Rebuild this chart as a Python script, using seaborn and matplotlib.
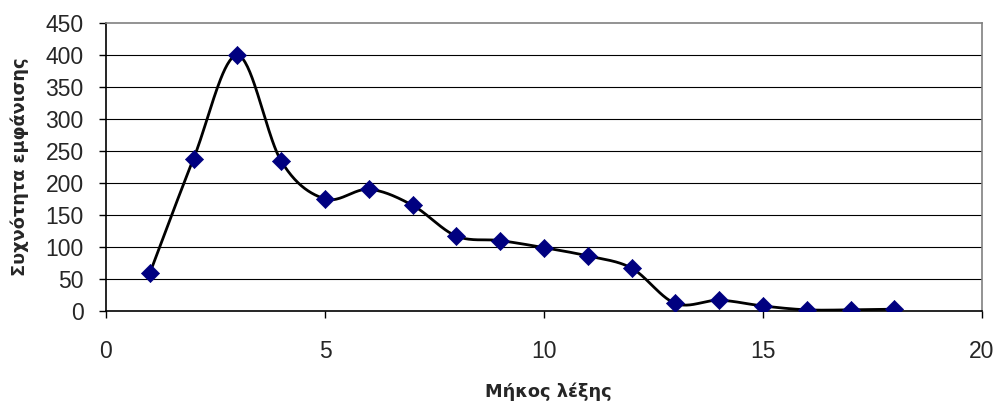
import numpy as np
import pandas as pd
import matplotlib
matplotlib.use("Agg")
import matplotlib.pyplot as plt
import seaborn as sns

word_length = [1, 2, 3, 4, 5, 6, 7, 8, 9, 10, 11, 12, 13, 14, 15, 16, 17, 18]
frequency = [59, 238, 399, 234, 175, 190, 165, 117, 110, 99, 86, 67, 12, 17, 8, 2, 2, 3]
x_ticks = [0, 5, 10, 15, 20]
y_ticks = [0, 50, 100, 150, 200, 250, 300, 350, 400, 450]
x_label = "Μήκος λέξης"
y_label = "Συχνότητα εμφάνισης"

sns.set_style("white")
plt.rcParams['font.family'] = ['Liberation Sans', 'DejaVu Sans']

df = pd.DataFrame({"x": word_length, "y": frequency})

# Excel-like smoothed line (cubic Bezier, Catmull-Rom style control points)
xs = np.array(word_length, dtype=float)
ys = np.array(frequency, dtype=float)
n = len(xs)
px = np.concatenate([[xs[0]], xs, [xs[-1]]])
py = np.concatenate([[ys[0]], ys, [ys[-1]]])
sx, sy = [], []
t = np.linspace(0, 1, 40)
for i in range(n - 1):
    p0 = np.array([px[i], py[i]]); p1 = np.array([px[i + 1], py[i + 1]])
    p2 = np.array([px[i + 2], py[i + 2]]); p3 = np.array([px[i + 3], py[i + 3]])
    c1 = p1 + (p2 - p0) / 6.0
    c2 = p2 - (p3 - p1) / 6.0
    b = ((1 - t) ** 3)[:, None] * p1 + (3 * (1 - t) ** 2 * t)[:, None] * c1 + \
        (3 * (1 - t) * t ** 2)[:, None] * c2 + (t ** 3)[:, None] * p2
    sx.extend(b[:, 0]); sy.extend(b[:, 1])
smooth = pd.DataFrame({"x": sx, "y": sy})

fig = plt.figure(figsize=(10, 4.03), dpi=100)
ax = fig.add_axes([0.106, 0.228, 0.876, 0.716])

for v in y_ticks[1:-1]:
    ax.axhline(v, color="black", lw=0.8, zorder=1)

sns.lineplot(data=smooth, x="x", y="y", ax=ax, color="black", lw=2.0, sort=False,
             estimator=None, zorder=3)
sns.scatterplot(data=df, x="x", y="y", ax=ax, marker="D", s=85, color="#000080",
                edgecolor="#000080", linewidth=0.5, zorder=4)

ax.set_xlim(0, 20)
ax.set_ylim(0, 450)
ax.set_xticks(x_ticks)
ax.set_yticks(y_ticks)
ax.tick_params(axis="both", labelsize=16.5, length=5, width=1, color="black",
               direction="out", left=True, bottom=True)
ax.tick_params(axis="y", pad=11)
ax.tick_params(axis="x", pad=16)

for side in ["left", "bottom"]:
    ax.spines[side].set_color("black")
    ax.spines[side].set_linewidth(1.2)
for side in ["top", "right"]:
    ax.spines[side].set_color("#808080")
    ax.spines[side].set_linewidth(1.2)

lab_font = {"family": ["DejaVu Sans"], "size": 12.8, "weight": "bold"}
ax.set_xlabel(x_label, fontdict=lab_font)
ax.set_ylabel(y_label, fontdict=lab_font)
ax.xaxis.set_label_coords(0.5055, -0.249)
ax.yaxis.set_label_coords(-0.088, 0.5)

fig.savefig("out.png", dpi=100)
